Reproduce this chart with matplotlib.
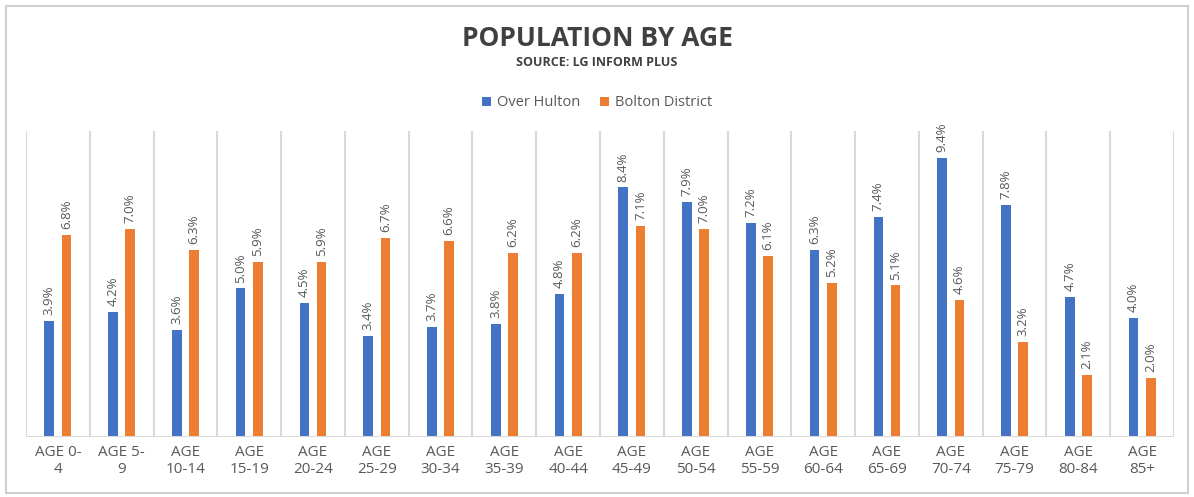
import matplotlib.pyplot as plt
import numpy as np
from matplotlib.patches import Rectangle

plt.rcParams['font.family'] = ['Open Sans', 'DejaVu Sans']

categories = ["AGE 0-\n4", "AGE 5-\n9", "AGE\n10-14", "AGE\n15-19", "AGE\n20-24", "AGE\n25-29",
              "AGE\n30-34", "AGE\n35-39", "AGE\n40-44", "AGE\n45-49", "AGE\n50-54", "AGE\n55-59",
              "AGE\n60-64", "AGE\n65-69", "AGE\n70-74", "AGE\n75-79", "AGE\n80-84", "AGE\n85+"]
over_hulton = [3.9, 4.2, 3.6, 5.0, 4.5, 3.4, 3.7, 3.8, 4.8, 8.4, 7.9, 7.2, 6.3, 7.4, 9.4, 7.8, 4.7, 4.0]
bolton = [6.8, 7.0, 6.3, 5.9, 5.9, 6.7, 6.6, 6.2, 6.2, 7.1, 7.0, 6.1, 5.2, 5.1, 4.6, 3.2, 2.1, 2.0]

blue = '#4472C4'
orange = '#ED7D31'
label_col = '#595959'

fig = plt.figure(figsize=(11.94, 4.97), dpi=100)
fig.patches.append(Rectangle((6/1194, 4/497), 1182/1194, 487/497, transform=fig.transFigure,
                             fill=False, edgecolor='#D0D0D0', linewidth=1.5))
ax = fig.add_axes([26/1194, 1-437/497, 1148/1194, 306/497])

x = np.arange(len(categories))
w = 0.15
off = 0.135
b1 = ax.bar(x - off, over_hulton, w, color=blue, label='Over Hulton')
b2 = ax.bar(x + off, bolton, w, color=orange, label='Bolton District')

# rotated value labels above each bar
for bars in (b1, b2):
    for b in bars:
        ax.text(b.get_x() + b.get_width()/2, b.get_height() + 0.2, f"{b.get_height():.1f}%",
                rotation=90, ha='center', va='bottom', fontsize=9.5, color=label_col)

ax.set_xlim(-0.5, len(categories) - 0.5)
ax.set_ylim(0, 10.3)
for xv in np.arange(-0.5, len(categories), 1.0):
    ax.axvline(xv, color='#D9D9D9', linewidth=1.5, zorder=0)
ax.axhline(0, color='#D9D9D9', linewidth=1.5)
for s in ax.spines.values():
    s.set_visible(False)
ax.set_yticks([])
ax.set_xticks(x)
ax.set_xticklabels(categories, fontsize=11, color=label_col, linespacing=1.15)
ax.tick_params(axis='x', length=0, pad=6)

fig.text(0.5, 1-38/497, "POPULATION BY AGE", ha='center', va='center', fontsize=19,
         fontweight='bold', color='#404040')
fig.text(0.5, 1-63/497, "SOURCE: LG INFORM PLUS", ha='center', va='center', fontsize=9,
         fontweight='bold', color='#404040')
fig.legend(loc='center', bbox_to_anchor=(0.5, 1-103/497), ncol=2, frameon=False,
           fontsize=10.5, handlelength=0.6, handleheight=0.6, handletextpad=0.4,
           columnspacing=1.4, labelcolor=label_col)

fig.savefig('out.png', dpi=100)
